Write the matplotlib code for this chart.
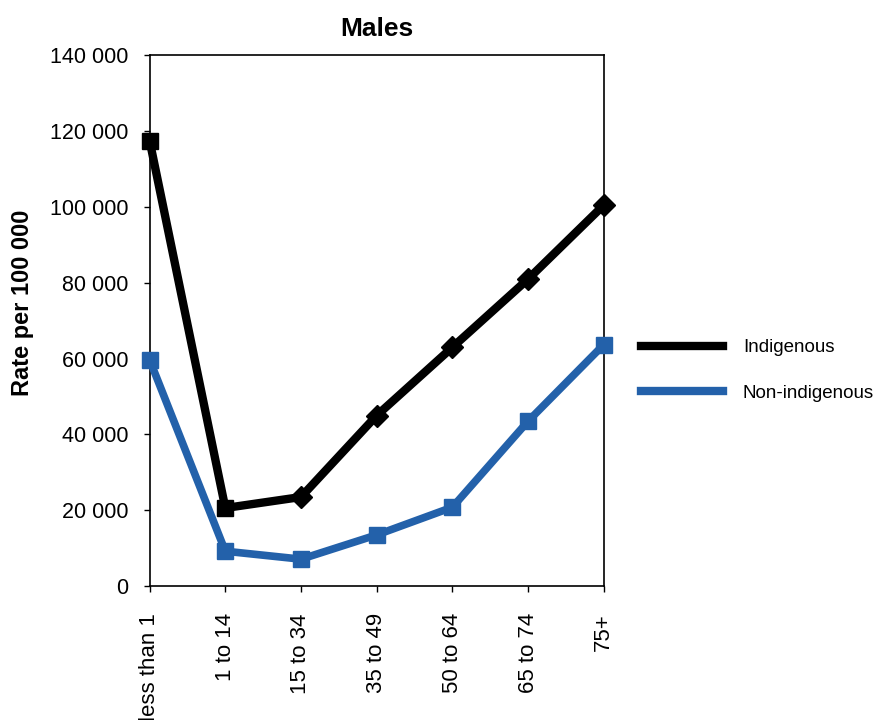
import matplotlib.pyplot as plt
from matplotlib.lines import Line2D
from matplotlib.ticker import FuncFormatter

plt.rcParams['font.family'] = ['Liberation Sans', 'DejaVu Sans']

# age groups and rates per 100 000 (males)
age_groups = ['less than 1', '1 to 14', '15 to 34', '35 to 49', '50 to 64', '65 to 74', '75+']
indigenous = [117500, 20600, 23500, 45000, 63000, 81000, 100500]
non_indigenous = [59700, 9200, 7100, 13500, 20800, 43500, 63700]

black = '#000000'
blue = '#2361AA'

fig = plt.figure(figsize=(8.75, 7.2), dpi=100)
ax = fig.add_axes([0.171, 0.186, 0.519, 0.737])

x = list(range(len(age_groups)))

# black series: square markers on the first two points, diamonds after
ax.plot(x, indigenous, color=black, lw=6, marker='s', ms=11,
        markevery=[0, 1], zorder=3, solid_joinstyle='miter', clip_on=False)
ax.plot(x[2:], indigenous[2:], ls='none', color=black, marker='D', ms=11,
        zorder=4, clip_on=False)

ax.plot(x, non_indigenous, color=blue, lw=5.5, marker='s', ms=11,
        zorder=3, solid_joinstyle='miter', clip_on=False)

ax.set_xlim(0, len(age_groups) - 1)
ax.set_ylim(0, 140000)
ax.set_yticks(range(0, 140001, 20000))
ax.yaxis.set_major_formatter(FuncFormatter(lambda v, p: f'{int(v):,}'.replace(',', ' ')))
ax.set_xticks(x)
ax.set_xticklabels(age_groups, rotation=90)
ax.tick_params(axis='both', direction='out', length=4.5, width=1, colors='black')
ax.tick_params(axis='y', labelsize=15.5, pad=11)
ax.tick_params(axis='x', labelsize=16, pad=15)
for s in ax.spines.values():
    s.set_linewidth(1.2)

ax.set_title('Males', fontsize=19, fontweight='bold', pad=14)
ax.set_ylabel('Rate per 100 000', fontsize=17, fontweight='bold')
ax.yaxis.set_label_coords(-0.255, 0.533)

handles = [Line2D([], [], color=black, lw=6), Line2D([], [], color=blue, lw=6)]
fig.legend(handles, ['Indigenous', 'Non-indigenous'], loc='center left',
           bbox_to_anchor=(0.713, 0.4854), frameon=False, fontsize=13.5,
           handlelength=4.4, handletextpad=1.05, labelspacing=1.5)

fig.savefig('out.png', dpi=100)
